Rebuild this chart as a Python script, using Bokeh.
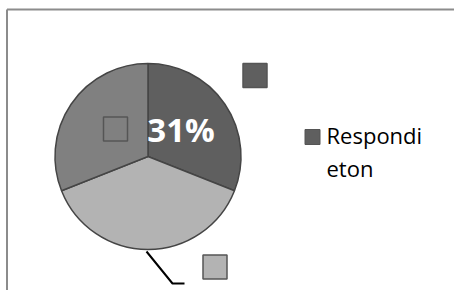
import math
from bokeh.plotting import figure
from bokeh.models import ColumnDataSource, Range1d
from bokeh.core.properties import value
from bokeh.embed import file_html
from bokeh.resources import INLINE

# ---- data ----
categories = ["Respondieton", "", ""]
values = [31, 38, 31]
colors = ["#5f5f5f", "#b3b3b3", "#808080"]
label_texts = ["31%", "", ""]
legend_lines = ["Respondi", "eton"]

W, H = 454, 290

def py(y):  # picture y -> data y
    return H - y

p = figure(width=W, height=H, output_backend="svg", toolbar_location=None,
           x_range=Range1d(0, W), y_range=Range1d(0, H),
           min_border=0, outline_line_color=None)
p.axis.visible = False
p.grid.visible = False
p.background_fill_color = "white"
p.border_fill_color = "white"

# chart frame (top and left visible)
p.line([6.5, W], [py(9), py(9)], line_color="#8c8c8c", line_width=2)
p.line([6.5, 6.5], [py(9), 0], line_color="#8c8c8c", line_width=2)

# pie
cx, cy, r = 147.5, py(156), 93
total = sum(values)
starts, ends = [], []
acc = 0.0
for v in values:
    a0 = math.pi / 2 - 2 * math.pi * acc / total
    acc += v
    a1 = math.pi / 2 - 2 * math.pi * acc / total
    starts.append(a0)
    ends.append(a1)

src = ColumnDataSource(dict(start=starts, end=ends, color=colors, cat=categories, val=values))
p.wedge(x=cx, y=cy, radius=r, start_angle="start", end_angle="end", direction="clock",
        fill_color="color", line_color="#454545", line_width=1.5, source=src)

# data labels: markers (legend keys) and text
key_pos = [(254.5, 75), (214.5, 266.5), (115, 128.5)]
p.rect(x=[k[0] for k in key_pos], y=[py(k[1]) for k in key_pos], width=24, height=24,
       fill_color=colors, line_color="#555555", line_width=1.5)

p.text(x=[180.5], y=[py(129)], text=[label_texts[0]], text_color="white",
       text_font=value("Open Sans"), text_font_style="bold", text_font_size="33px",
       text_align="center", text_baseline="alphabetic")

# leader line for the bottom slice label
p.line([146, 172, 184], [py(251), py(283), py(283)], line_color="black", line_width=2)

# legend
p.rect(x=[312], y=[py(136.5)], width=15, height=15, fill_color=colors[0],
       line_color="#555555", line_width=1)
p.text(x=[326, 326], y=[py(134), py(167)], text=legend_lines, text_color="black",
       text_font=value("Open Sans"), text_font_size="22px",
       text_align="left", text_baseline="alphabetic")

open("out.html", "w").write(file_html(p, INLINE))
